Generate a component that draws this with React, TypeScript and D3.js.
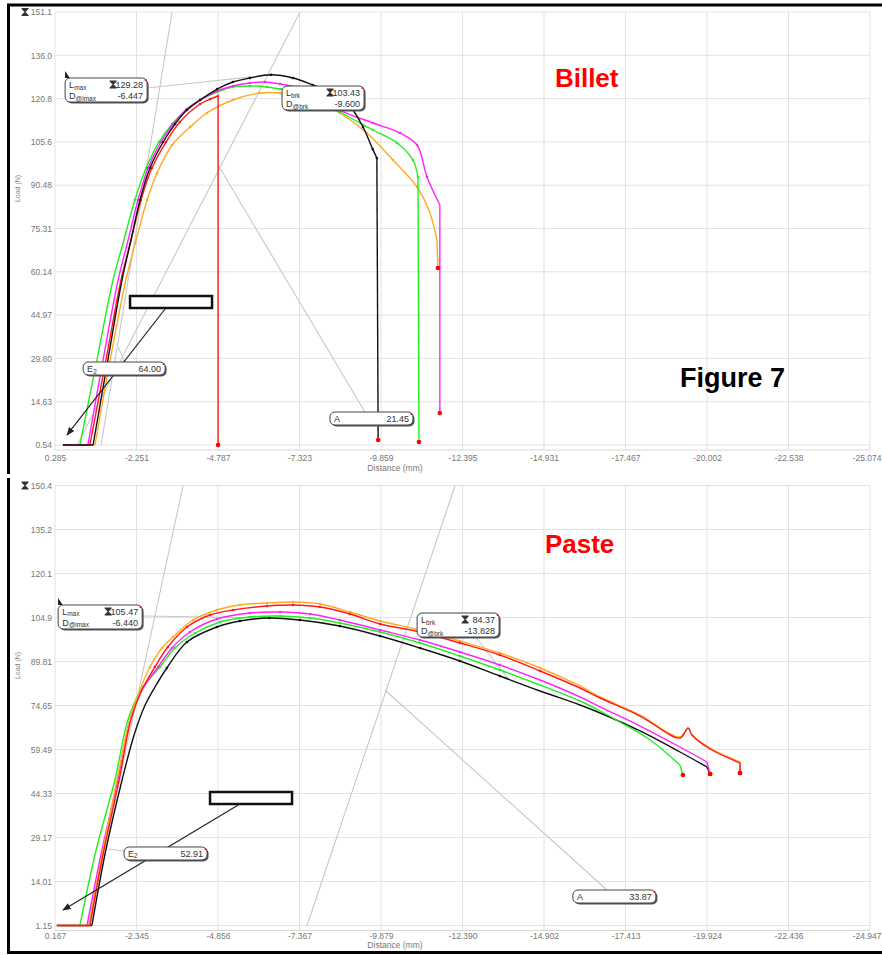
import * as d3 from "d3";
import React, { useRef, useEffect } from "react";

const FONT = "'Liberation Sans', Arial, sans-serif";
const BLACK = "#111111";
const MAGENTA = "#ff22ff";
const GREEN = "#22ee22";
const RED = "#ff1a1a";
const ORANGE = "#ffaa22";

// ---- Billet (top) ----
const billetXLabels = ["0.285", "-2.251", "-4.787", "-7.323", "-9.859", "-12.395", "-14.931", "-17.467", "-20.002", "-22.538", "-25.074"];
const billetYLabels = ["0.54", "14.63", "29.80", "44.97", "60.14", "75.31", "90.48", "105.6", "120.8", "136.0", "151.1"];

const billetBlackDist = [0.04, -0.9, -1.36, -1.8, -2.08, -2.36, -2.67, -3.08, -3.45, -3.82, -4.23, -4.76, -5.25, -5.78, -6.44, -7.12, -7.74, -8.27, -8.74, -8.99, -9.3, -9.6, -9.73, -9.77];
const billetBlackLoad = [0.54, 0.54, 30.09, 57.91, 71.82, 85.73, 96.85, 105.89, 112.15, 117.02, 120.5, 124.32, 126.76, 128.15, 129.28, 128.15, 125.71, 123.28, 120.5, 117.02, 111.11, 103.43, 100.33, 2.28];

const billetMagentaDist = [0.04, -0.74, -1.21, -1.68, -1.99, -2.3, -2.61, -3.01, -3.39, -3.82, -4.23, -4.76, -5.25, -5.78, -6.25, -6.72, -7.34, -7.96, -8.58, -9.61, -10.45, -10.98, -11.29, -11.69, -11.69];
const billetMagentaLoad = [0.54, 0.54, 30.09, 57.91, 71.82, 85.73, 96.85, 105.89, 112.15, 117.37, 120.5, 123.63, 125.37, 126.41, 126.76, 126.06, 124.67, 121.89, 117.02, 112.5, 109.02, 104.85, 93.73, 83.99, 11.67];

const billetGreenDist = [0.04, -0.49, -1.02, -1.52, -1.86, -2.2, -2.55, -2.95, -3.36, -3.79, -4.23, -4.76, -5.25, -5.78, -6.31, -6.72, -7.34, -7.96, -8.58, -9.61, -10.36, -10.85, -11.01, -11.04];
const billetGreenLoad = [0.54, 0.54, 30.09, 57.91, 71.82, 85.73, 96.85, 105.89, 112.15, 117.02, 120.5, 123.28, 125.02, 125.37, 125.02, 124.32, 123.28, 120.5, 116.33, 110.07, 105.55, 99.64, 93.73, 1.58];

const billetRedDist = [0.04, -0.8, -1.3, -1.77, -2.08, -2.39, -2.73, -3.17, -3.6, -4.23, -4.54, -4.79, -4.79];
const billetRedLoad = [0.54, 0.54, 30.09, 57.91, 71.82, 85.73, 96.85, 105.89, 112.85, 119.11, 120.84, 121.89, 0.54];

const billetOrangeDist = [0.04, -0.96, -1.43, -1.92, -2.24, -2.58, -2.89, -3.36, -3.92, -4.44, -5.25, -6.09, -6.72, -7.34, -7.96, -8.58, -9.42, -10.23, -10.98, -11.38, -11.6, -11.63];
const billetOrangeLoad = [0.54, 0.54, 30.09, 57.91, 71.82, 85.73, 95.11, 104.85, 111.11, 115.98, 120.5, 122.93, 122.93, 121.89, 119.45, 115.98, 109.02, 99.64, 90.25, 81.21, 71.82, 62.08];

// ---- Paste (bottom) ----
const pasteXLabels = ["0.167", "-2.345", "-4.856", "-7.367", "-9.879", "-12.390", "-14.902", "-17.413", "-19.924", "-22.436", "-24.947"];
const pasteYLabels = ["1.15", "14.01", "29.17", "44.33", "59.49", "74.65", "89.81", "104.9", "120.1", "135.2", "150.4"];

const pasteBlackDist = [0.11, -0.97, -1.4, -1.9, -2.27, -2.61, -2.95, -3.28, -3.9, -4.82, -5.53, -6.44, -7.38, -8.61, -9.85, -11.08, -12.31, -13.54, -14.78, -16.01, -16.63, -17.86, -19.09, -19.92, -20.02];
const pasteBlackLoad = [1.15, 1.15, 26.76, 50.51, 65.77, 75.95, 82.73, 88.5, 97.32, 102.4, 104.44, 105.47, 104.78, 102.74, 99.35, 95.28, 90.87, 85.78, 80.69, 75.95, 73.23, 67.13, 60.0, 54.92, 52.54];

const pasteGreenDist = [0.11, -0.6, -1.1, -1.68, -2.08, -2.48, -3.07, -3.53, -4.15, -4.92, -5.84, -6.77, -7.69, -8.61, -9.85, -11.08, -12.31, -13.54, -14.78, -16.01, -16.63, -17.24, -18.17, -19.09, -19.18];
const pasteGreenLoad = [1.15, 1.15, 26.76, 50.51, 70.86, 81.03, 88.84, 95.28, 100.37, 104.1, 105.8, 106.14, 105.46, 103.76, 100.71, 96.98, 92.57, 87.82, 82.73, 77.3, 73.91, 70.18, 64.07, 55.59, 52.2];

const pasteMagentaDist = [0.11, -0.82, -1.28, -1.77, -2.14, -2.51, -3.01, -3.44, -3.99, -4.82, -5.84, -6.77, -7.69, -8.61, -9.85, -11.08, -12.31, -13.54, -14.78, -16.01, -16.63, -17.86, -19.09, -19.92, -20.02];
const pasteMagentaLoad = [1.15, 1.15, 26.76, 50.51, 70.86, 81.03, 88.84, 95.28, 100.71, 105.12, 107.15, 107.49, 106.81, 104.78, 101.39, 97.99, 93.92, 89.51, 84.43, 78.66, 75.27, 68.82, 61.7, 56.61, 52.54];

const pasteOrangeDist = [0.11, -0.88, -1.31, -1.74, -2.14, -2.45, -2.76, -3.13, -3.47, -4.09, -4.82, -5.53, -6.37, -7.17, -8.0, -8.92, -9.85, -11.08, -12.31, -13.54, -14.78, -16.01, -16.63, -17.86, -19.09, -19.34, -19.46, -20.02, -20.94, -20.94];
const pasteOrangeLoad = [1.15, 1.15, 26.76, 50.51, 70.86, 81.03, 88.84, 95.28, 99.01, 104.78, 108.17, 109.87, 110.55, 110.88, 110.21, 107.49, 104.44, 101.39, 97.66, 93.58, 88.5, 82.39, 78.66, 72.55, 65.09, 68.14, 65.77, 61.36, 56.61, 52.88];

const pasteRedDist = [0.11, -0.91, -1.34, -1.81, -2.17, -2.51, -2.91, -3.31, -3.9, -4.61, -5.32, -6.37, -7.17, -8.0, -8.92, -9.85, -11.08, -12.31, -13.54, -14.78, -16.01, -16.63, -17.86, -19.09, -19.34, -19.46, -20.02, -20.94, -20.94];
const pasteRedLoad = [1.15, 1.15, 26.76, 50.51, 70.86, 81.03, 88.84, 95.62, 102.4, 106.47, 108.17, 109.53, 109.87, 109.19, 106.81, 103.42, 100.71, 96.98, 92.91, 87.48, 81.71, 78.32, 72.21, 64.75, 68.14, 65.77, 61.02, 56.27, 52.88];

const billet = {
  xDomain: [0.285, -25.074],
  yDomain: [0.54, 151.1],
  top: 12,
  bottom: 445,
  tickPad: 5,
  titleGap: 26,
  markFrom: 85,
  xLabels: billetXLabels,
  yLabels: billetYLabels,
  series: [
    { color: ORANGE, dist: billetOrangeDist, load: billetOrangeLoad },
    { color: GREEN, dist: billetGreenDist, load: billetGreenLoad },
    { color: MAGENTA, dist: billetMagentaDist, load: billetMagentaLoad },
    { color: RED, dist: billetRedDist, load: billetRedLoad },
    { color: BLACK, dist: billetBlackDist, load: billetBlackLoad },
  ],
  // tangent / leader lines, [dist, load] pairs
  guides: [
    [[-3.36, 151.1], [-1.15, 0.54]],
    [[-7.34, 151.1], [-0.4, 0.54]],
    [[-4.79, 97.9], [-9.36, 12.0]],
    [[-2.58, 124.7], [-6.447, 129.28]],
    [[-1.63, 35.9], [-1.88, 29.4]],
  ],
  boxes: [
    { d: -0.03, l: 128.15, w: 82, cursor: true, rows: [["L", "max", "129.28", true], ["D", "@lmax", "-6.447", false]] },
    { d: -6.78, l: 125.36, w: 82, cursor: false, rows: [["L", "brk", "103.43", true], ["D", "@brk", "-9.600", false]] },
    { d: -0.59, l: 29.4, w: 82, cursor: false, rows: [["E", "2", "64.00", false]] },
    { d: -8.27, l: 12.01, w: 83, cursor: false, rows: [["A", "", "21.45", false]] },
  ],
  blank: { d: -2.05, l: 52.35 },
  arrow: [[-3.14, 47.83], [-0.09, 4.02]],
  title: { text: "Billet", d: -15.27, l: 125.0 },
};

const paste = {
  xDomain: [0.167, -24.945],
  yDomain: [1.15, 150.4],
  top: 485.5,
  bottom: 925.5,
  tickPad: 2,
  titleGap: 22,
  markFrom: 85,
  xLabels: pasteXLabels,
  yLabels: pasteYLabels,
  series: [
    { color: BLACK, dist: pasteBlackDist, load: pasteBlackLoad },
    { color: GREEN, dist: pasteGreenDist, load: pasteGreenLoad },
    { color: MAGENTA, dist: pasteMagentaDist, load: pasteMagentaLoad },
    { color: ORANGE, dist: pasteOrangeDist, load: pasteOrangeLoad },
    { color: RED, dist: pasteRedDist, load: pasteRedLoad },
  ],
  guides: [
    [[-3.78, 150.4], [-0.85, 1.15]],
    [[-12.16, 150.4], [-7.6, 1.15]],
    [[-16.84, 13.19], [-10.0, 81.03]],
    [[-2.54, 106.14], [-6.44, 105.47]],
    [[-12.77, 99.35], [-13.828, 84.37]],
    [[-1.47, 27.1], [-1.96, 26.42]],
  ],
  boxes: [
    { d: 0.07, l: 109.87, w: 84, cursor: true, rows: [["L", "max", "105.47", true], ["D", "@lmax", "-6.440", false]] },
    { d: -10.99, l: 107.15, w: 82, cursor: false, rows: [["L", "brk", "84.37", true], ["D", "@brk", "-13.828", false]] },
    { d: -1.96, l: 27.78, w: 83, cursor: false, rows: [["E", "2", "52.91", false]] },
    { d: -15.79, l: 13.19, w: 83, cursor: false, rows: [["A", "", "33.87", false]] },
  ],
  blank: { d: -4.61, l: 46.43 },
  arrow: [[-5.53, 42.36], [-0.08, 6.41]],
  title: { text: "Paste", d: -14.93, l: 127.5 },
};

function hourglass(g, cx, cy) {
  g.append("path")
    .attr("d", `M${cx - 3.5},${cy - 4}h7v1l-3,3l3,3v1h-7v-1l3,-3l-3,-3z`)
    .attr("fill", "#333");
}

function drawPanel(svg, p) {
  const g = svg.append("g");
  const x = d3.scaleLinear().domain(p.xDomain).range([55, 870]);
  const y = d3.scaleLinear().domain(p.yDomain).range([p.bottom, p.top]);
  const xTicks = d3.range(11).map((i) => p.xDomain[0] + (i * (p.xDomain[1] - p.xDomain[0])) / 10);
  const yTicks = d3.range(11).map((i) => p.yDomain[0] + (i * (p.yDomain[1] - p.yDomain[0])) / 10);

  // grid
  g.selectAll(".vg").data(xTicks).enter().append("line")
    .attr("x1", (d) => x(d)).attr("x2", (d) => x(d))
    .attr("y1", p.top).attr("y2", p.bottom + 5)
    .attr("stroke", "#e3e3e3");
  g.selectAll(".hg").data(yTicks).enter().append("line")
    .attr("x1", 55).attr("x2", 870)
    .attr("y1", (d) => y(d)).attr("y2", (d) => y(d))
    .attr("stroke", "#e3e3e3");
  g.append("line").attr("x1", 55).attr("x2", 870)
    .attr("y1", p.bottom + 5).attr("y2", p.bottom + 5).attr("stroke", "#d6d6d6");

  // axes
  const xa = g.append("g").attr("transform", `translate(0,${p.bottom + 5})`)
    .call(d3.axisBottom(x).tickValues(xTicks).tickSize(0).tickPadding(p.tickPad).tickFormat((d, i) => p.xLabels[i]));
  const ya = g.append("g").attr("transform", "translate(53,0)")
    .call(d3.axisLeft(y).tickValues(yTicks).tickSize(0).tickPadding(1).tickFormat((d, i) => p.yLabels[i]));
  [xa, ya].forEach((a) => {
    a.select(".domain").remove();
    a.selectAll("text").attr("font-family", FONT).attr("font-size", 8.5).attr("fill", "#777");
  });
  // last label would run past the page edge: keep it inside
  xa.selectAll("text").filter((d, i) => i === 10).attr("text-anchor", "end").attr("x", 11);
  hourglass(g, 25, y(p.yDomain[1]));

  g.append("text").attr("x", 395).attr("y", p.bottom + p.titleGap)
    .attr("text-anchor", "middle").attr("font-family", FONT).attr("font-size", 8.5).attr("fill", "#777")
    .text("Distance (mm)");
  g.append("text").attr("transform", `translate(20,${(p.top + p.bottom) / 2 - 40}) rotate(-90)`)
    .attr("text-anchor", "middle").attr("font-family", FONT).attr("font-size", 7).attr("fill", "#888")
    .text("Load (N)");

  // guide lines
  g.selectAll(".guide").data(p.guides).enter().append("line")
    .attr("x1", (d) => x(d[0][0])).attr("y1", (d) => y(d[0][1]))
    .attr("x2", (d) => x(d[1][0])).attr("y2", (d) => y(d[1][1]))
    .attr("stroke", "#c8c8c8").attr("stroke-width", 1.1);

  // curves: straight flat start and end drop, smooth in between
  const straight = d3.line().x((d) => x(d[0])).y((d) => y(d[1]));
  const smooth = d3.line().x((d) => x(d[0])).y((d) => y(d[1])).curve(d3.curveCatmullRom.alpha(0.5));
  p.series.forEach((s) => {
    const pts = s.dist.map((d, i) => [d, s.load[i]]);
    const n = pts.length;
    [
      [straight, pts.slice(0, 2)],
      [smooth, pts.slice(1, n - 1)],
      [straight, pts.slice(n - 2)],
    ].forEach(([gen, part]) => {
      g.append("path").datum(part).attr("d", gen)
        .attr("fill", "none").attr("stroke", s.color).attr("stroke-width", 1.4)
        .attr("stroke-linejoin", "round");
    });
    g.selectAll(null).data(pts.slice(2, -1).filter((d) => d[1] > p.markFrom)).enter().append("circle")
      .attr("cx", (d) => x(d[0])).attr("cy", (d) => y(d[1])).attr("r", 1.3)
      .attr("fill", s.color);
  });
  p.series.forEach((s) => {
    const n = s.dist.length - 1;
    g.append("circle").attr("cx", x(s.dist[n])).attr("cy", y(s.load[n]))
      .attr("r", 2.3).attr("fill", "#ff0000");
  });

  // blank rectangle + arrow
  g.append("rect").attr("x", x(p.blank.d)).attr("y", y(p.blank.l))
    .attr("width", 82).attr("height", 12)
    .attr("fill", "#fff").attr("stroke", "#111").attr("stroke-width", 2.5);
  g.append("line")
    .attr("x1", x(p.arrow[0][0])).attr("y1", y(p.arrow[0][1]))
    .attr("x2", x(p.arrow[1][0])).attr("y2", y(p.arrow[1][1]))
    .attr("stroke", "#222").attr("stroke-width", 1.2).attr("marker-end", "url(#arr)");

  // labelled boxes
  p.boxes.forEach((b) => {
    const bx = x(b.d);
    const by = y(b.l);
    const h = b.rows.length === 2 ? 24 : 13;
    g.append("rect").attr("x", bx + 1.5).attr("y", by + 1.5).attr("width", b.w).attr("height", h)
      .attr("rx", 5).attr("fill", "#555");
    g.append("rect").attr("x", bx).attr("y", by).attr("width", b.w).attr("height", h)
      .attr("rx", 5).attr("fill", "#fff").attr("stroke", "#444").attr("stroke-width", 1);
    b.rows.forEach((r, i) => {
      const ty = by + 10 + i * 11;
      const t = g.append("text").attr("x", bx + 4).attr("y", ty)
        .attr("font-family", FONT).attr("font-size", 9).attr("fill", "#333");
      t.append("tspan").text(r[0]);
      t.append("tspan").attr("font-size", 6.5).attr("dy", 1.5).text(r[1]);
      g.append("text").attr("x", bx + b.w - 4).attr("y", ty).attr("text-anchor", "end")
        .attr("font-family", FONT).attr("font-size", 9).attr("fill", "#333").text(r[2]);
      if (r[3]) hourglass(g, bx + b.w - 34, ty - 3.5);
    });
    g.append("circle").attr("cx", bx + b.w - 1.5).attr("cy", by + 2).attr("r", 1).attr("fill", "#ff0000");
    if (b.cursor) {
      g.append("path").attr("d", `M${bx},${by - 7}l4.5,7h-4.5z`).attr("fill", "#111");
    }
  });

  g.append("text").attr("x", x(p.title.d)).attr("y", y(p.title.l))
    .attr("font-family", FONT).attr("font-size", 26).attr("font-weight", "bold").attr("fill", "#ff0000")
    .text(p.title.text);
}

function App() {
  const ref = useRef(null);

  useEffect(() => {
    const svg = d3.select(ref.current);
    svg.selectAll("*").remove();
    svg.append("defs").append("marker")
      .attr("id", "arr").attr("viewBox", "0 0 10 10").attr("refX", 9).attr("refY", 5)
      .attr("markerWidth", 7).attr("markerHeight", 7).attr("orient", "auto-start-reverse")
      .append("path").attr("d", "M0,1L10,5L0,9z").attr("fill", "#222");
    svg.append("rect").attr("width", 882).attr("height", 955).attr("fill", "#fff");

    drawPanel(svg, billet);
    drawPanel(svg, paste);

    svg.append("text").attr("x", 680).attr("y", 387)
      .attr("font-family", FONT).attr("font-size", 27).attr("font-weight", "bold").attr("fill", "#000")
      .text("Figure 7");

    // frames
    svg.append("path").attr("d", "M8.5,474V5H882").attr("fill", "none").attr("stroke", "#000").attr("stroke-width", 3);
    svg.append("path").attr("d", "M8.5,478V952.5H882").attr("fill", "none").attr("stroke", "#000").attr("stroke-width", 3);
  }, []);

  return (
    <svg ref={ref} width={882} height={955} style={{ position: "absolute", left: 0, top: 0 }}></svg>
  );
}

export default App;
